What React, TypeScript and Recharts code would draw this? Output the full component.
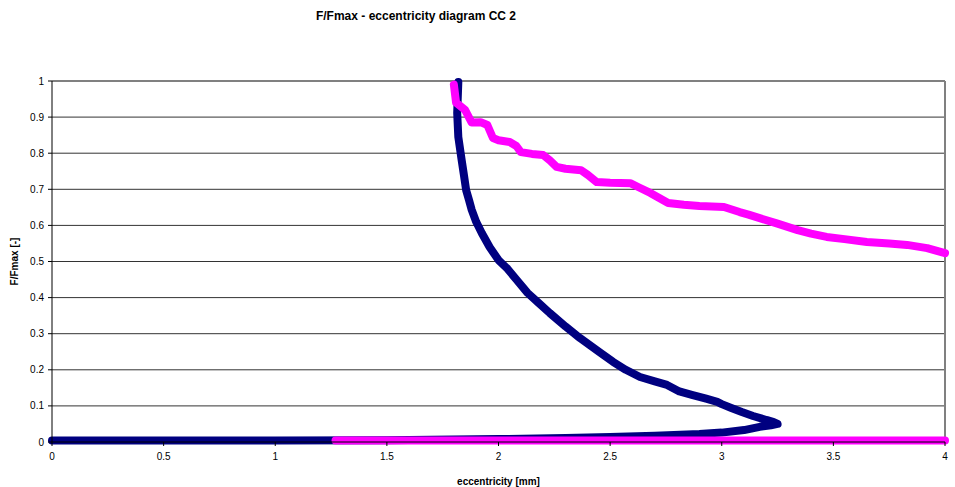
import React from 'react';
import { LineChart, Line, XAxis, YAxis, CartesianGrid, ReferenceLine } from 'recharts';

// CC 2, navy series: eccentricity [mm] and F/Fmax, in recorded order
const navyEcc = [
  0, 0.5, 1.0, 1.5, 2.0, 2.3, 2.5, 2.7, 2.9, 3.0, 3.1, 3.17, 3.22, 3.25,
  3.23, 3.2, 3.14, 3.09, 3.04, 3.0, 2.98, 2.93, 2.87, 2.81, 2.755, 2.7, 2.634,
  2.57, 2.513, 2.45, 2.365, 2.3, 2.23, 2.18, 2.13, 2.08, 2.04, 2.0, 1.96, 1.925,
  1.9, 1.88, 1.868, 1.855, 1.845, 1.835, 1.82, 1.815, 1.82,
];
const navyF = [
  0.004, 0.004, 0.004, 0.005, 0.008, 0.011, 0.014, 0.017, 0.022, 0.026, 0.033, 0.042, 0.046, 0.05,
  0.056, 0.061, 0.072, 0.083, 0.095, 0.105, 0.111, 0.12, 0.13, 0.14, 0.158, 0.168, 0.18,
  0.2, 0.222, 0.25, 0.288, 0.32, 0.357, 0.385, 0.413, 0.45, 0.48, 0.504, 0.54, 0.579,
  0.61, 0.643, 0.67, 0.698, 0.74, 0.781, 0.845, 0.911, 0.997,
];

// magenta series, lower branch (runs past 4 mm)
const pinkLowEcc = [1.27, 2.0, 3.0, 4.0];
const pinkLowF = [0.004, 0.004, 0.004, 0.004];

// magenta series, upper branch coming back from beyond 4 mm
const pinkHighEcc = [
  4.0, 3.92, 3.83, 3.75, 3.65, 3.55, 3.47, 3.4, 3.34, 3.25, 3.17, 3.12, 3.08, 3.01,
  2.9, 2.83, 2.76, 2.72, 2.68, 2.63, 2.59, 2.5, 2.44, 2.4, 2.37, 2.3, 2.26, 2.23,
  2.2, 2.15, 2.1, 2.08, 2.05, 2.0, 1.975, 1.95, 1.92, 1.88, 1.85, 1.81, 1.8,
];
const pinkHighF = [
  0.523, 0.537, 0.546, 0.55, 0.554, 0.562, 0.568, 0.577, 0.587, 0.605, 0.62, 0.63, 0.637, 0.651,
  0.654, 0.657, 0.662, 0.676, 0.69, 0.705, 0.717, 0.718, 0.72, 0.74, 0.753, 0.757, 0.762, 0.78,
  0.795, 0.798, 0.803, 0.82, 0.831, 0.836, 0.842, 0.878, 0.886, 0.885, 0.92, 0.94, 0.99,
];

const xTicks = [0, 0.5, 1, 1.5, 2, 2.5, 3, 3.5, 4];
const yTicks = [0, 0.1, 0.2, 0.3, 0.4, 0.5, 0.6, 0.7, 0.8, 0.9, 1];

const zip = (e: number[], f: number[]) => e.map((v, i) => ({ e: v, f: f[i] }));

const navyData = zip(navyEcc, navyF);
const pinkLowData = zip(pinkLowEcc, pinkLowF);
const pinkHighData = zip(pinkHighEcc, pinkHighF);

const FONT = 'Arial, "Liberation Sans", sans-serif';
const tickStyle = { fontSize: 10, fill: '#000', fontFamily: FONT };

export default function App() {
  return (
    <div style={{ position: 'absolute', left: 0, top: 0, width: 955, height: 487, background: '#fff' }}>
      <div
        style={{
          position: 'absolute',
          left: 300,
          top: 9,
          width: 232,
          textAlign: 'center',
          fontFamily: FONT,
          fontWeight: 'bold',
          fontSize: 12,
          color: '#000',
          whiteSpace: 'nowrap',
        }}
      >
        F/Fmax - eccentricity diagram CC 2
      </div>
      <LineChart width={955} height={487} margin={{ top: 81, right: 10, bottom: 0, left: 0 }}>
        <CartesianGrid horizontal vertical={false} stroke="#333" />
        <XAxis
          type="number"
          dataKey="e"
          domain={[0, 4]}
          ticks={xTicks}
          height={45}
          tickSize={4}
          tickMargin={7}
          tick={tickStyle}
          stroke="#000"
          tickFormatter={(v: number) => String(v)}
          label={{
            value: 'eccentricity [mm]',
            position: 'insideBottom',
            offset: 2,
            style: { fontSize: 10, fontWeight: 'bold', fill: '#000', fontFamily: FONT },
          }}
        />
        <YAxis
          type="number"
          dataKey="f"
          domain={[0, 1]}
          ticks={yTicks}
          width={52}
          tickSize={4}
          tickMargin={4}
          tick={tickStyle}
          stroke="#000"
          tickFormatter={(v: number) => String(v)}
          label={{
            value: 'F/Fmax [-]',
            angle: -90,
            position: 'insideLeft',
            offset: 14,
            style: { fontSize: 10, fontWeight: 'bold', fill: '#000', fontFamily: FONT, textAnchor: 'middle' },
          }}
        />
        <ReferenceLine y={1} stroke="#808080" strokeWidth={2} />
        <ReferenceLine x={4} stroke="#808080" strokeWidth={2} />
        <Line
          data={navyData}
          dataKey="f"
          type="linear"
          stroke="#000080"
          strokeWidth={8}
          strokeLinecap="round"
          strokeLinejoin="round"
          dot={false}
          isAnimationActive={false}
        />
        <Line
          data={pinkLowData}
          dataKey="f"
          type="linear"
          stroke="#FF00FF"
          strokeWidth={8}
          strokeLinecap="round"
          strokeLinejoin="round"
          dot={false}
          isAnimationActive={false}
        />
        <Line
          data={pinkHighData}
          dataKey="f"
          type="linear"
          stroke="#FF00FF"
          strokeWidth={8}
          strokeLinecap="round"
          strokeLinejoin="round"
          dot={false}
          isAnimationActive={false}
        />
      </LineChart>
    </div>
  );
}
